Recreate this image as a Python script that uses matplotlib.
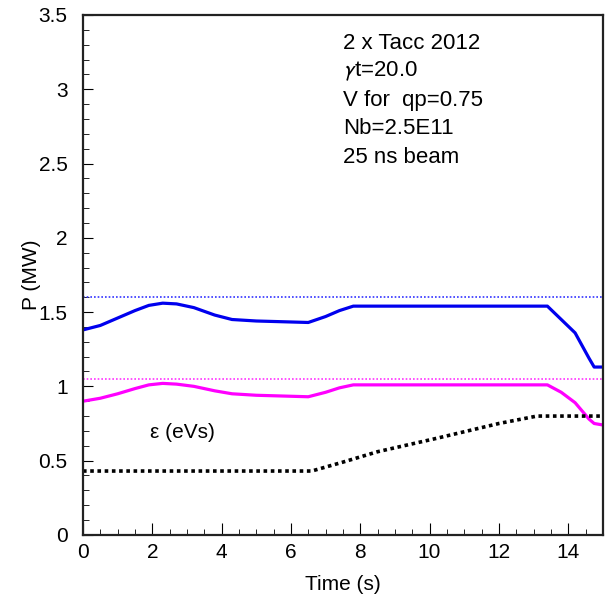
import matplotlib
matplotlib.use("Agg")
import matplotlib.pyplot as plt
from matplotlib.ticker import MultipleLocator, FormatStrFormatter

plt.rcParams['font.family'] = ['Liberation Sans', 'DejaVu Sans']

# Datos
t_power = [0, 0.5, 1, 1.5, 1.9, 2.3, 2.7, 3.2, 3.8, 4.3, 5, 6.5, 7.0, 7.4, 7.8, 13.4, 13.8, 14.2, 14.6, 14.75, 15]
p_blue = [1.38, 1.41, 1.46, 1.51, 1.545, 1.56, 1.555, 1.53, 1.48, 1.45, 1.44, 1.43, 1.47, 1.51, 1.54,
          1.54, 1.45, 1.36, 1.19, 1.13, 1.13]
p_magenta = [0.90, 0.92, 0.95, 0.985, 1.01, 1.02, 1.015, 1.0, 0.97, 0.95, 0.94, 0.93, 0.96, 0.99, 1.01,
             1.01, 0.96, 0.89, 0.78, 0.75, 0.74]

t_eps = [0, 6.6, 7.5, 8.5, 10.2, 12, 13.1, 15]
eps = [0.43, 0.43, 0.49, 0.56, 0.65, 0.75, 0.80, 0.80]

limit_blue = 1.60
limit_magenta = 1.05

info_lines = ["2 x Tacc 2012", r"$\gamma$t=20.0", "V for  qp=0.75", "Nb=2.5E11", "25 ns beam"]

fig = plt.figure(figsize=(6.08, 5.99), dpi=100)
ax = fig.add_axes([0.1365, 0.107, 0.855, 0.868])

ax.axhline(limit_blue, color="#3333ff", lw=1.2, ls=(0, (1, 1.2)))
ax.axhline(limit_magenta, color="#ff33ff", lw=1.2, ls=(0, (1, 1.2)))
ax.plot(t_power, p_blue, color="#0000ee", lw=2.3)
ax.plot(t_power, p_magenta, color="#ff00ff", lw=2.3)
ax.plot(t_eps, eps, color="black", lw=2.6, ls=(0, (1, 1)))

ax.text(1.93, 0.69, "\u03b5 (eVs)", fontsize=15, ha="left", va="center")
for i, line in enumerate(info_lines):
    ax.text(7.5, 3.31 - i * 0.192, line, fontsize=16, ha="left", va="center",
            math_fontfamily="stixsans")

ax.set_xlim(0, 15)
ax.set_ylim(0, 3.5)
ax.xaxis.set_major_locator(MultipleLocator(2))
ax.xaxis.set_minor_locator(MultipleLocator(0.5))
ax.yaxis.set_major_locator(MultipleLocator(0.5))
ax.yaxis.set_minor_locator(MultipleLocator(0.1))
ax.yaxis.set_major_formatter(FormatStrFormatter("%g"))
ax.tick_params(which="both", direction="in", labelsize=15, top=False, right=False)
ax.tick_params(which="major", length=9, pad=6)
ax.tick_params(which="minor", length=4)
ax.tick_params(axis="y", which="major", length=7, pad=11)

for s in ax.spines.values():
    s.set_linewidth(1.6)
    s.set_color("#222222")

ax.set_xlabel("Time (s)", fontsize=15)
ax.set_ylabel("P (MW)", fontsize=15)
ax.xaxis.set_label_coords(0.5, -0.078)
ax.yaxis.set_label_coords(-0.08, 0.5)

fig.savefig("out.png", dpi=100)
